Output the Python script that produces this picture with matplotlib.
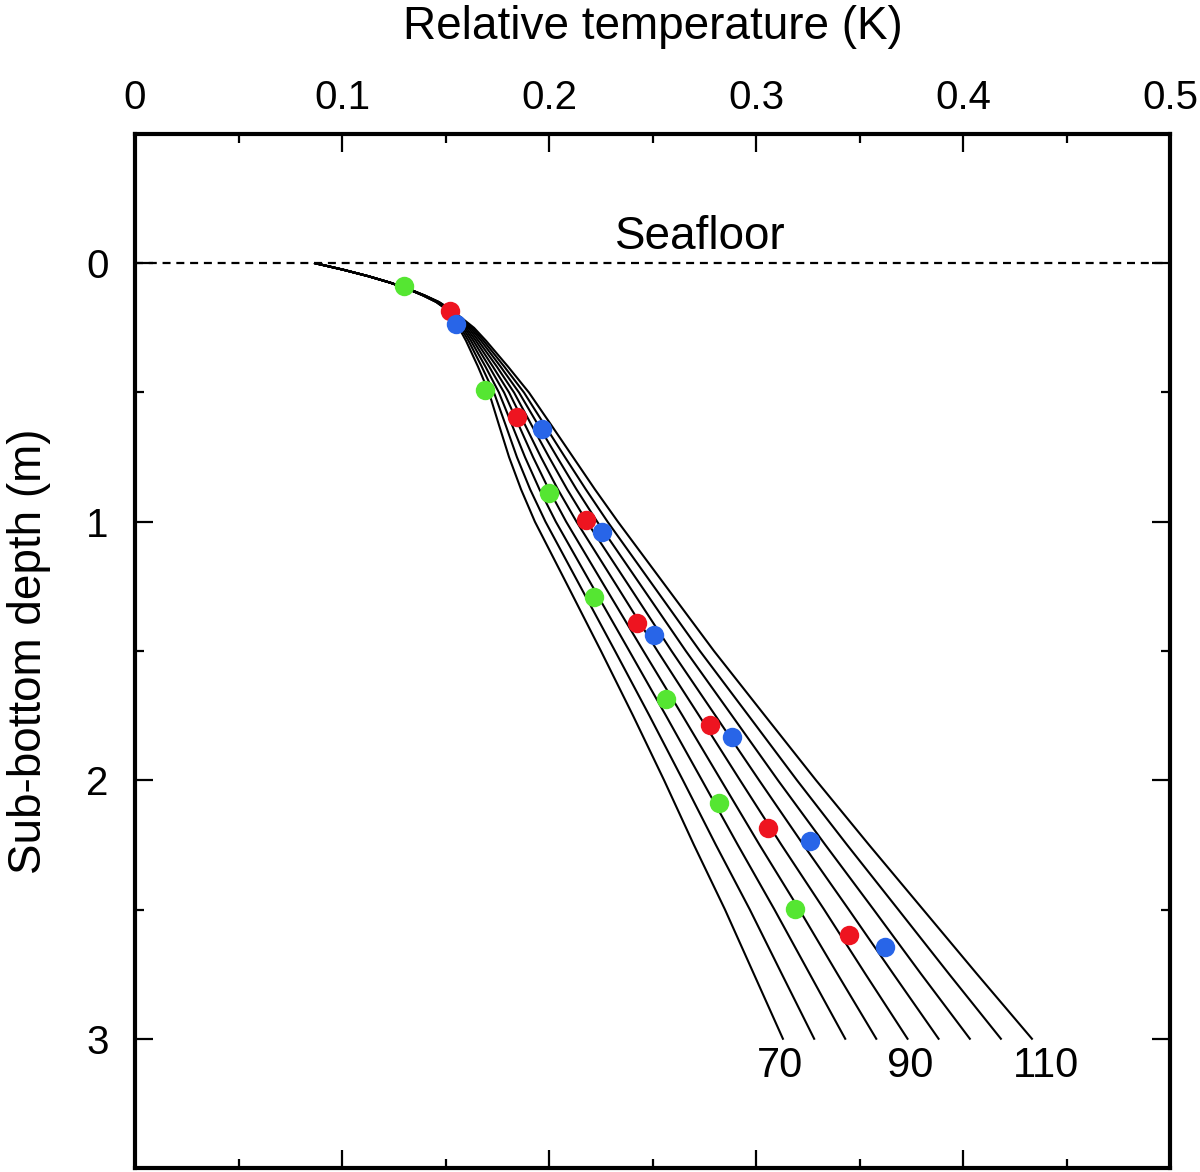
import matplotlib
matplotlib.use("Agg")
import matplotlib.pyplot as plt
from matplotlib.ticker import MultipleLocator, FixedLocator

plt.rcParams['font.family'] = ['Liberation Sans', 'DejaVu Sans']

# depth of the model profiles (m)
depth = [0, 0.025, 0.05, 0.075, 0.1, 0.125, 0.15, 0.175, 0.2, 0.25, 0.3, 0.4, 0.5,
         0.625, 0.75, 0.875, 1.0, 1.25, 1.5, 1.75, 2.0, 2.25, 2.5, 2.75, 3.0]

# relative temperature (K) of each profile, labelled 70 ... 110
profiles = {
    70:  [0.0870, 0.1005, 0.1126, 0.1232, 0.1319, 0.1391, 0.1454, 0.1498, 0.1527, 0.1565, 0.1599, 0.1657, 0.1710,
          0.1758, 0.1807, 0.1865, 0.1932, 0.2092, 0.2251, 0.2406, 0.2556, 0.2700, 0.2850, 0.2990, 0.3130],
    75:  [0.0870, 0.1005, 0.1126, 0.1232, 0.1319, 0.1393, 0.1456, 0.1500, 0.1531, 0.1574, 0.1611, 0.1675, 0.1734,
          0.1790, 0.1845, 0.1909, 0.1983, 0.2151, 0.2319, 0.2485, 0.2647, 0.2806, 0.2970, 0.3125, 0.3281],
    80:  [0.0870, 0.1005, 0.1126, 0.1232, 0.1320, 0.1394, 0.1458, 0.1502, 0.1535, 0.1583, 0.1623, 0.1693, 0.1758,
          0.1821, 0.1884, 0.1954, 0.2033, 0.2210, 0.2388, 0.2565, 0.2739, 0.2912, 0.3089, 0.3260, 0.3431],
    85:  [0.0870, 0.1005, 0.1126, 0.1232, 0.1320, 0.1395, 0.1459, 0.1505, 0.1539, 0.1592, 0.1635, 0.1711, 0.1783,
          0.1853, 0.1923, 0.1999, 0.2083, 0.2269, 0.2456, 0.2645, 0.2831, 0.3017, 0.3209, 0.3394, 0.3581],
    90:  [0.0870, 0.1005, 0.1126, 0.1232, 0.1321, 0.1396, 0.1461, 0.1507, 0.1544, 0.1601, 0.1647, 0.1729, 0.1807,
          0.1884, 0.1961, 0.2043, 0.2133, 0.2329, 0.2524, 0.2725, 0.2923, 0.3123, 0.3329, 0.3529, 0.3732],
    95:  [0.0870, 0.1005, 0.1126, 0.1232, 0.1322, 0.1398, 0.1463, 0.1510, 0.1548, 0.1611, 0.1659, 0.1748, 0.1831,
          0.1915, 0.2000, 0.2088, 0.2183, 0.2388, 0.2592, 0.2804, 0.3015, 0.3229, 0.3448, 0.3664, 0.3882],
    100: [0.0870, 0.1005, 0.1126, 0.1232, 0.1322, 0.1399, 0.1465, 0.1512, 0.1552, 0.1620, 0.1672, 0.1766, 0.1855,
          0.1947, 0.2039, 0.2133, 0.2233, 0.2447, 0.2661, 0.2884, 0.3106, 0.3335, 0.3568, 0.3798, 0.4033],
    105: [0.0870, 0.1005, 0.1126, 0.1232, 0.1323, 0.1400, 0.1467, 0.1515, 0.1556, 0.1629, 0.1684, 0.1784, 0.1879,
          0.1978, 0.2077, 0.2178, 0.2283, 0.2506, 0.2729, 0.2964, 0.3198, 0.3440, 0.3687, 0.3933, 0.4183],
    110: [0.0870, 0.1005, 0.1126, 0.1232, 0.1324, 0.1401, 0.1469, 0.1517, 0.1560, 0.1638, 0.1696, 0.1802, 0.1903,
          0.2010, 0.2116, 0.2222, 0.2333, 0.2565, 0.2797, 0.3043, 0.3290, 0.3546, 0.3807, 0.4068, 0.4333],
}
labelled = [70, 90, 110]

# measured points (three sensor strings)
green_depth = [0.089, 0.49, 0.888, 1.293, 1.687, 2.089, 2.498]
green_temp = [0.130, 0.169, 0.200, 0.2217, 0.2565, 0.282, 0.319]
red_depth = [0.185, 0.595, 0.992, 1.39, 1.788, 2.185, 2.598]
red_temp = [0.152, 0.1845, 0.218, 0.2425, 0.278, 0.306, 0.345]
blue_depth = [0.236, 0.641, 1.039, 1.44, 1.834, 2.236, 2.645]
blue_temp = [0.155, 0.1966, 0.2256, 0.2507, 0.2884, 0.326, 0.3623]

fs_tick = 29
fs_lab = 33

fig = plt.figure(figsize=(12, 11.72), dpi=100)
ax = fig.add_axes([0.1125, 0.0034, 0.8625, 0.8823])

ax.axhline(0, color="black", lw=1.6, ls=(0, (3.6, 2.6)), zorder=1)
ax.text(0.273, -0.054, "Seafloor", fontsize=fs_lab, ha="center", va="baseline")

# small horizontal nudges of the curve labels (points)
label_dx = {70: -2, 90: 2, 110: 10}
for k, temps in profiles.items():
    ax.plot(temps, depth, color="black", lw=1.5, zorder=2)
    if k in labelled:
        ax.annotate(str(k), (temps[-1], depth[-1]), xytext=(label_dx[k], -27.5),
                    textcoords="offset points", ha="center", va="baseline", fontsize=30)

ms = 14
ax.plot(green_temp, green_depth, "o", color="#55e632", ms=ms, mec="none", zorder=3)
ax.plot(red_temp, red_depth, "o", color="#ee1420", ms=ms, mec="none", zorder=3)
ax.plot(blue_temp, blue_depth, "o", color="#2865e8", ms=ms, mec="none", zorder=3)

ax.set_xlim(0, 0.5)
ax.set_ylim(3.5, -0.5)

ax.xaxis.set_major_locator(MultipleLocator(0.1))
ax.xaxis.set_minor_locator(MultipleLocator(0.05))
ax.yaxis.set_major_locator(FixedLocator([0, 1, 2, 3]))
ax.yaxis.set_minor_locator(FixedLocator([0.5, 1.5, 2.5]))
ax.xaxis.set_major_formatter(plt.FuncFormatter(lambda v, p: f"{v:g}"))
ax.yaxis.set_major_formatter(plt.FuncFormatter(lambda v, p: f"{v:g}"))

ax.xaxis.tick_top()
ax.xaxis.set_label_position("top")
ax.tick_params(which="both", direction="in", top=True, bottom=True, left=True, right=True,
               width=1.6, labelsize=fs_tick)
ax.tick_params(which="major", length=13)
ax.tick_params(which="minor", length=6.5)
ax.tick_params(axis="x", pad=12)
ax.tick_params(axis="y", pad=19)

for s in ax.spines.values():
    s.set_linewidth(3)

ax.set_xlabel("Relative temperature (K)", fontsize=fs_lab, labelpad=29)
ax.set_ylabel("Sub-bottom depth (m)", fontsize=fs_lab, labelpad=25)

fig.savefig("out.png", dpi=100)
